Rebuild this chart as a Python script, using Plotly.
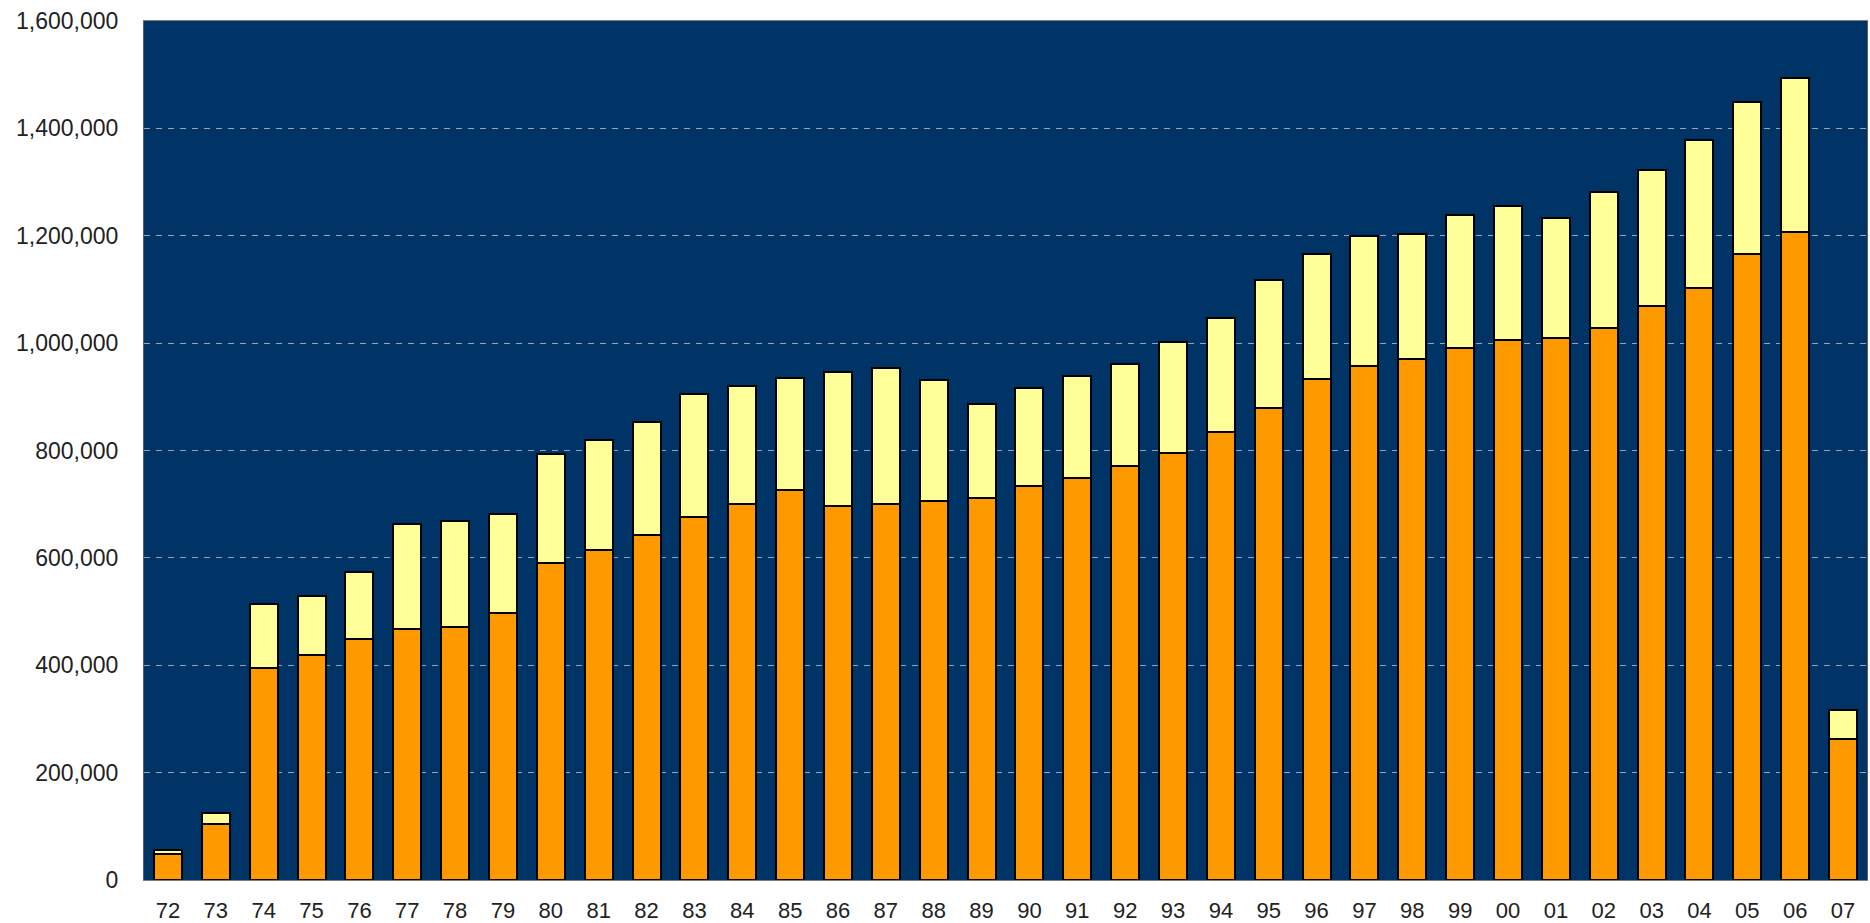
import plotly.graph_objects as go

years = ["72", "73", "74", "75", "76", "77", "78", "79", "80", "81", "82", "83",
         "84", "85", "86", "87", "88", "89", "90", "91", "92", "93", "94", "95",
         "96", "97", "98", "99", "00", "01", "02", "03", "04", "05", "06", "07"]

orange_vals = [48000, 104000, 394000, 420000, 449000, 468000, 472000, 498000,
               591000, 614000, 643000, 677000, 700000, 726000, 696000, 700000,
               706000, 711000, 733000, 749000, 771000, 796000, 834000, 879000,
               934000, 957000, 971000, 990000, 1005000, 1009000, 1028000, 1069000,
               1102000, 1166000, 1207000, 263000]

totals = [55000, 124000, 514000, 529000, 573000, 663000, 668000, 682000,
          794000, 820000, 853000, 905000, 920000, 935000, 947000, 954000,
          931000, 887000, 917000, 939000, 961000, 1002000, 1047000, 1118000,
          1166000, 1200000, 1204000, 1238000, 1256000, 1233000, 1281000, 1322000,
          1379000, 1450000, 1494000, 316000]

yellow_vals = [t - o for t, o in zip(totals, orange_vals)]

y_ticks = [0, 200000, 400000, 600000, 800000, 1000000, 1200000, 1400000, 1600000]
y_tick_text = ["0", "200,000", "400,000", "600,000", "800,000", "1,000,000",
               "1,200,000", "1,400,000", "1,600,000"]

fig = go.Figure()
fig.add_trace(go.Bar(x=years, y=orange_vals, name="A",
                     marker=dict(color="#FF9900", line=dict(color="#000000", width=2))))
fig.add_trace(go.Bar(x=years, y=yellow_vals, name="B",
                     marker=dict(color="#FFFF99", line=dict(color="#000000", width=2))))

fig.update_layout(
    barmode="stack",
    bargap=0.415,
    width=1870, height=923,
    margin=dict(l=144, r=3, t=21, b=43),
    paper_bgcolor="#FFFFFF",
    plot_bgcolor="#003366",
    showlegend=False,
    font=dict(family="Liberation Sans, Arial, sans-serif", size=23, color="#222222"),
)
fig.update_xaxes(
    type="category",
    automargin=False,
    showgrid=False,
    showline=True, linecolor="#808080", linewidth=1, mirror=True,
    ticks="", ticklabelstandoff=11,
    tickfont=dict(size=22),
)
fig.update_yaxes(
    range=[0, 1600000],
    automargin=False,
    tickvals=y_ticks, ticktext=y_tick_text,
    showgrid=True, gridcolor="#9AA3AD", gridwidth=1, griddash="6px,6px",
    showline=True, linecolor="#606060", linewidth=1, mirror=True,
    zeroline=False,
    ticks="", ticklabelstandoff=20,
    tickfont=dict(size=23),
)

fig.write_html(
    "out.html",
    config={"displayModeBar": False},
    post_script="document.body.style.margin='0';document.body.style.overflow='hidden';",
)
